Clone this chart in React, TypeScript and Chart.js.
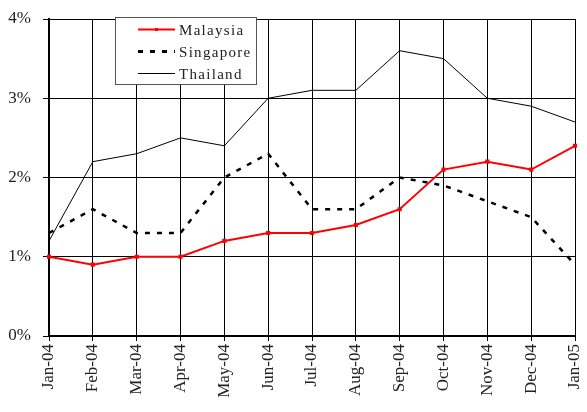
import React, { useEffect, useRef } from "react";
import { Chart, registerables } from "chart.js";

Chart.register(...registerables);

const categories = ["Jan-04", "Feb-04", "Mar-04", "Apr-04", "May-04", "Jun-04", "Jul-04", "Aug-04", "Sep-04", "Oct-04", "Nov-04", "Dec-04", "Jan-05"];
const malaysia = [1.0, 0.9, 1.0, 1.0, 1.2, 1.3, 1.3, 1.4, 1.6, 2.1, 2.2, 2.1, 2.4];
const singapore = [1.3, 1.6, 1.3, 1.3, 2.0, 2.3, 1.6, 1.6, 2.0, 1.9, 1.7, 1.5, 0.9];
const thailand = [1.2, 2.2, 2.3, 2.5, 2.4, 3.0, 3.1, 3.1, 3.6, 3.5, 3.0, 2.9, 2.7];
const seriesNames = ["Malaysia", "Singapore", "Thailand"];
const yTicks = [0, 1, 2, 3, 4];

const FONT = "'Liberation Serif', 'Times New Roman', Times, serif";

const legendPlugin = {
  id: "boxLegend",
  afterDraw(chart: any) {
    const ctx = chart.ctx as CanvasRenderingContext2D;
    ctx.save();
    const x0 = 115, y0 = 17, w = 141, h = 67;
    ctx.fillStyle = "#ffffff";
    ctx.fillRect(x0, y0, w, h);
    ctx.strokeStyle = "#555";
    ctx.lineWidth = 1;
    ctx.strokeRect(x0 + 0.5, y0 + 0.5, w, h);
    const rows = [29, 51, 73];
    const styles = [
      { color: "#ff0000", width: 2, dash: [] as number[], dot: true },
      { color: "#000000", width: 3, dash: [5, 7], dot: false },
      { color: "#000000", width: 1, dash: [] as number[], dot: false },
    ];
    for (let i = 0; i < 3; i++) {
      const s = styles[i];
      ctx.strokeStyle = s.color;
      ctx.lineWidth = s.width;
      ctx.setLineDash(s.dash);
      ctx.beginPath();
      ctx.moveTo(138, rows[i] + 0.5);
      ctx.lineTo(175, rows[i] + 0.5);
      ctx.stroke();
      ctx.setLineDash([]);
      if (s.dot) {
        ctx.fillStyle = s.color;
        ctx.fillRect(155, rows[i] - 1, 3, 3);
      }
      ctx.fillStyle = "#222";
      ctx.font = `15px ${FONT}`;
      (ctx as any).letterSpacing = "1.3px";
      ctx.textBaseline = "middle";
      ctx.textAlign = "left";
      ctx.fillText(seriesNames[i], 179, rows[i] + 2);
    }
    ctx.restore();
  },
};

export default function App() {
  const ref = useRef<HTMLCanvasElement | null>(null);
  useEffect(() => {
    let chart: Chart | null = null;
    let cancelled = false;
    const make = () => {
      if (cancelled || !ref.current) return;
      chart = new Chart(ref.current, {
        type: "line",
        data: {
          labels: categories,
          datasets: [
            {
              label: seriesNames[0],
              data: malaysia,
              borderColor: "#ff0000",
              backgroundColor: "#ff0000",
              borderWidth: 2,
              pointRadius: 1.5,
              pointStyle: "rect",
              tension: 0,
            },
            {
              label: seriesNames[1],
              data: singapore,
              borderColor: "#000000",
              borderWidth: 2.5,
              borderDash: [5, 7],
              pointRadius: 0,
              tension: 0,
            },
            {
              label: seriesNames[2],
              data: thailand,
              borderColor: "#000000",
              borderWidth: 1,
              pointRadius: 0,
              tension: 0,
            },
          ],
        },
        options: {
          animation: false,
          responsive: false,
          layout: { padding: { left: 0, right: 12, top: 19, bottom: 0 } },
          plugins: { legend: { display: false }, tooltip: { enabled: false } },
          scales: {
            x: {
              offset: false,
              grid: { color: "#000", lineWidth: 1, tickLength: 5, drawOnChartArea: true },
              border: { color: "#000", width: 2 },
              ticks: {
                color: "#222",
                font: { family: FONT, size: 17 },
                minRotation: 90,
                maxRotation: 90,
                padding: 3,
                autoSkip: false,
              },
              afterFit(scale: any) {
                scale.height = 76;
                scale.paddingLeft = 0;
                scale.paddingRight = 0;
              },
            },
            y: {
              min: 0,
              max: 4,
              afterBuildTicks(scale: any) {
                scale.ticks = yTicks.map((v) => ({ value: v }));
              },
              grid: { color: "#000", lineWidth: 1, tickLength: 6 },
              border: { color: "#000", width: 2 },
              ticks: {
                color: "#222",
                font: { family: FONT, size: 17 },
                padding: 12,
                callback: (v: any) => `${v}%`,
              },
              afterFit(scale: any) {
                scale.width = 49;
                scale.paddingTop = 0;
                scale.paddingBottom = 0;
              },
            },
          },
        },
        plugins: [legendPlugin],
      });
    };
    const fonts = (document as any).fonts;
    if (fonts && fonts.load) {
      Promise.all([
        fonts.load("17px 'Liberation Serif'"),
        fonts.load("15px 'Liberation Serif'"),
      ]).then(make, make);
    } else {
      make();
    }
    return () => {
      cancelled = true;
      if (chart) chart.destroy();
    };
  }, []);
  return (
    <div style={{ position: "fixed", left: 0, top: 0, width: 587, height: 412, background: "#fff" }}>
      <canvas ref={ref} width={587} height={412} style={{ display: "block" }} />
    </div>
  );
}
